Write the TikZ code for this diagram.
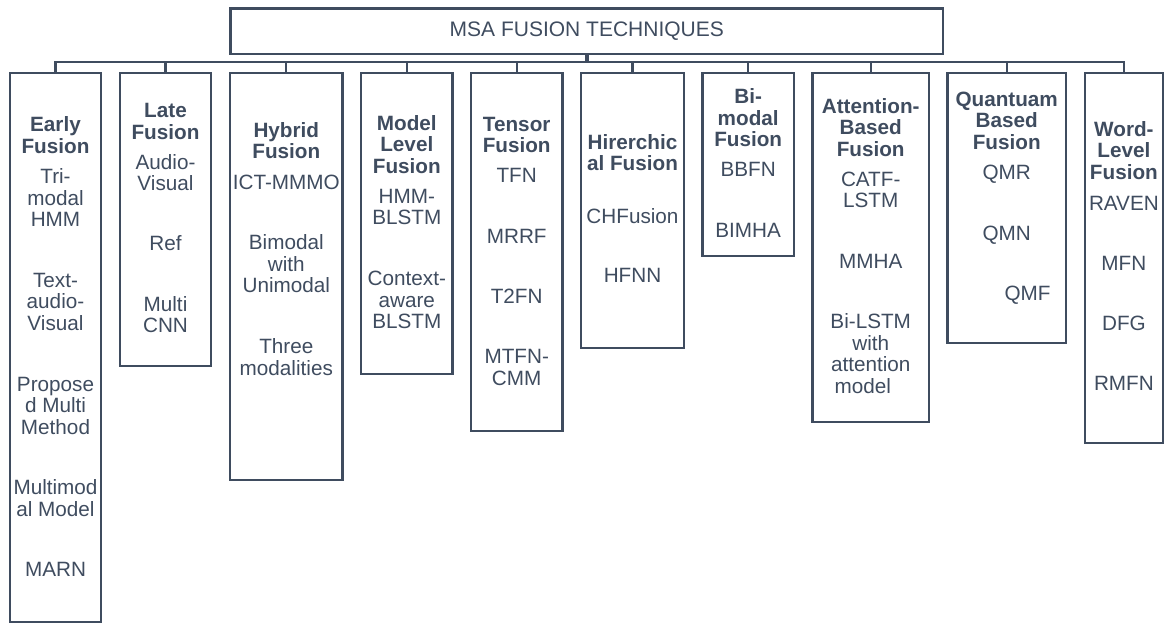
\documentclass[tikz,border=0pt]{standalone}
\usepackage{fontspec}
\setmainfont{Liberation Sans}
\definecolor{slate}{RGB}{63,76,95}
% multi-line labels are anchored at the baseline of their last line
\tikzset{
  colbox/.style={draw=slate, line width=2.4pt, rectangle, anchor=north, inner sep=0pt},
  link/.style={draw=slate, line width=2.3pt},
  stub/.style={draw=slate, line width=4pt},
  head/.style={text=slate, align=center, anchor=base, inner sep=0pt,
               font=\fontsize{20.7}{21.5}\selectfont\bfseries},
  item/.style={text=slate, align=center, anchor=base, inner sep=0pt,
               font=\fontsize{20.7}{21.5}\selectfont},
}
\begin{document}
\begin{tikzpicture}[x=1pt, y=-1pt]
\useasboundingbox (0,0) rectangle (1164,622);

% root
\node[colbox, minimum width=712.5, minimum height=45.4] (title) at (586.8,7.3) {};
\node[item, font=\fontsize{21}{22}\selectfont] (titletext) at (586.8,36.7) {MSA FUSION TECHNIQUES};

% columns
\node[colbox, minimum width=91,    minimum height=549]   (early)  at (55.5,71.7)   {};
\node[colbox, minimum width=91,    minimum height=293.3] (late)   at (165.5,71.7)  {};
\node[colbox, minimum width=112.7, minimum height=407.3] (hybrid) at (286.3,71.7)  {};
\node[colbox, minimum width=91.7,  minimum height=301]   (model)  at (406.8,71.7)  {};
\node[colbox, minimum width=91.3,  minimum height=358.3] (tensor) at (516.7,71.7)  {};
\node[colbox, minimum width=103,   minimum height=275]   (hier)   at (632.5,71.7)  {};
\node[colbox, minimum width=91.7,  minimum height=183.3] (bimod)  at (748.2,71.7)  {};
\node[colbox, minimum width=116.7, minimum height=349]   (attn)   at (870.7,71.7)  {};
\node[colbox, minimum width=118.7, minimum height=270]   (quant)  at (1006.7,71.7) {};
\node[colbox, minimum width=77.7,  minimum height=370]   (word)   at (1123.9,71.7) {};

% connectors
\coordinate (bus) at (0,62.3);
\draw[link] (early.north) -- (early.north |- bus) -- (word.north |- bus) -- (word.north);
\foreach \c in {late,hybrid,model,tensor,hier,bimod,attn,quant}
  \draw[link] (\c.north) -- (\c.north |- bus);
\draw[stub] (title.south) -- (title.south |- bus);

% Early Fusion
\node[head] (early-h) at (55.5,153)   {Early\\Fusion};
\node[item] (early-1) at (55.5,226.5) {Tri-\\modal\\HMM};
\node[item] (early-2) at (55.5,330)   {Text-\\audio-\\Visual};
\node[item] (early-3) at (55.5,434)   {Propose\\d Multi\\Method};
\node[item] (early-4) at (55.5,516)   {Multimod\\al Model};
\node[item] (early-5) at (55.5,576)   {MARN};

% Late Fusion
\node[head] (late-h) at (165.5,139)   {Late\\Fusion};
\node[item] (late-1) at (165.5,190.7) {Audio-\\Visual};
\node[item] (late-2) at (165.5,250.7) {Ref};
\node[item] (late-3) at (165.5,332.7) {Multi\\CNN};

% Hybrid Fusion
\node[head] (hybrid-h) at (286.3,158.7) {Hybrid\\Fusion};
\node[item] (hybrid-1) at (286.3,189.3) {ICT-MMMO};
\node[item] (hybrid-2) at (286.3,292.7) {Bimodal\\with\\Unimodal};
\node[item] (hybrid-3) at (286.3,375)   {Three\\modalities};

% Model Level Fusion
\node[head] (model-h) at (406.8,173.3) {Model\\Level\\Fusion};
\node[item] (model-1) at (406.8,224.5) {HMM-\\BLSTM};
\node[item] (model-2) at (406.8,328.7) {Context-\\aware\\BLSTM};

% Tensor Fusion
\node[head] (tensor-h) at (516.7,152.7) {Tensor\\Fusion};
\node[item] (tensor-1) at (516.7,182.7) {TFN};
\node[item] (tensor-2) at (516.7,243.3) {MRRF};
\node[item] (tensor-3) at (516.7,303.3) {T2FN};
\node[item] (tensor-4) at (516.7,385)   {MTFN-\\CMM};

% Hierarchical Fusion
\node[head] (hier-h) at (632.5,170.7) {Hirerchic\\al Fusion};
\node[item] (hier-1) at (632.5,223.3) {CHFusion};
\node[item] (hier-2) at (632.5,282.7) {HFNN};

% Bi-modal Fusion
\node[head] (bimod-h) at (748.2,146.7) {Bi-\\modal\\Fusion};
\node[item] (bimod-1) at (748.2,176.7) {BBFN};
\node[item] (bimod-2) at (748.2,237.3) {BIMHA};

% Attention-Based Fusion
\node[head] (attn-h) at (870.7,156)   {Attention-\\Based\\Fusion};
\node[item] (attn-1) at (870.7,207.7) {CATF-\\LSTM};
\node[item] (attn-2) at (870.7,268.3) {MMHA};
\node[item] (attn-3) at (870.7,393.3) {Bi-LSTM\\with\\attention\\model\rule{16pt}{0pt}};

% Quantum Based Fusion
\node[head] (quant-h) at (1006.7,149.3) {Quantuam\\Based\\Fusion};
\node[item] (quant-1) at (1006.7,179.3) {QMR};
\node[item] (quant-2) at (1006.7,240)   {QMN};
\node[item] (quant-3) at (1027.5,300)   {QMF};

% Word-Level Fusion
\node[head] (word-h) at (1123.9,179.3) {Word-\\Level\\Fusion};
\node[item] (word-1) at (1123.9,210) {RAVEN};
\node[item] (word-2) at (1123.9,270) {MFN};
\node[item] (word-3) at (1123.9,330) {DFG};
\node[item] (word-4) at (1123.9,390) {RMFN};
\end{tikzpicture}
\end{document}
